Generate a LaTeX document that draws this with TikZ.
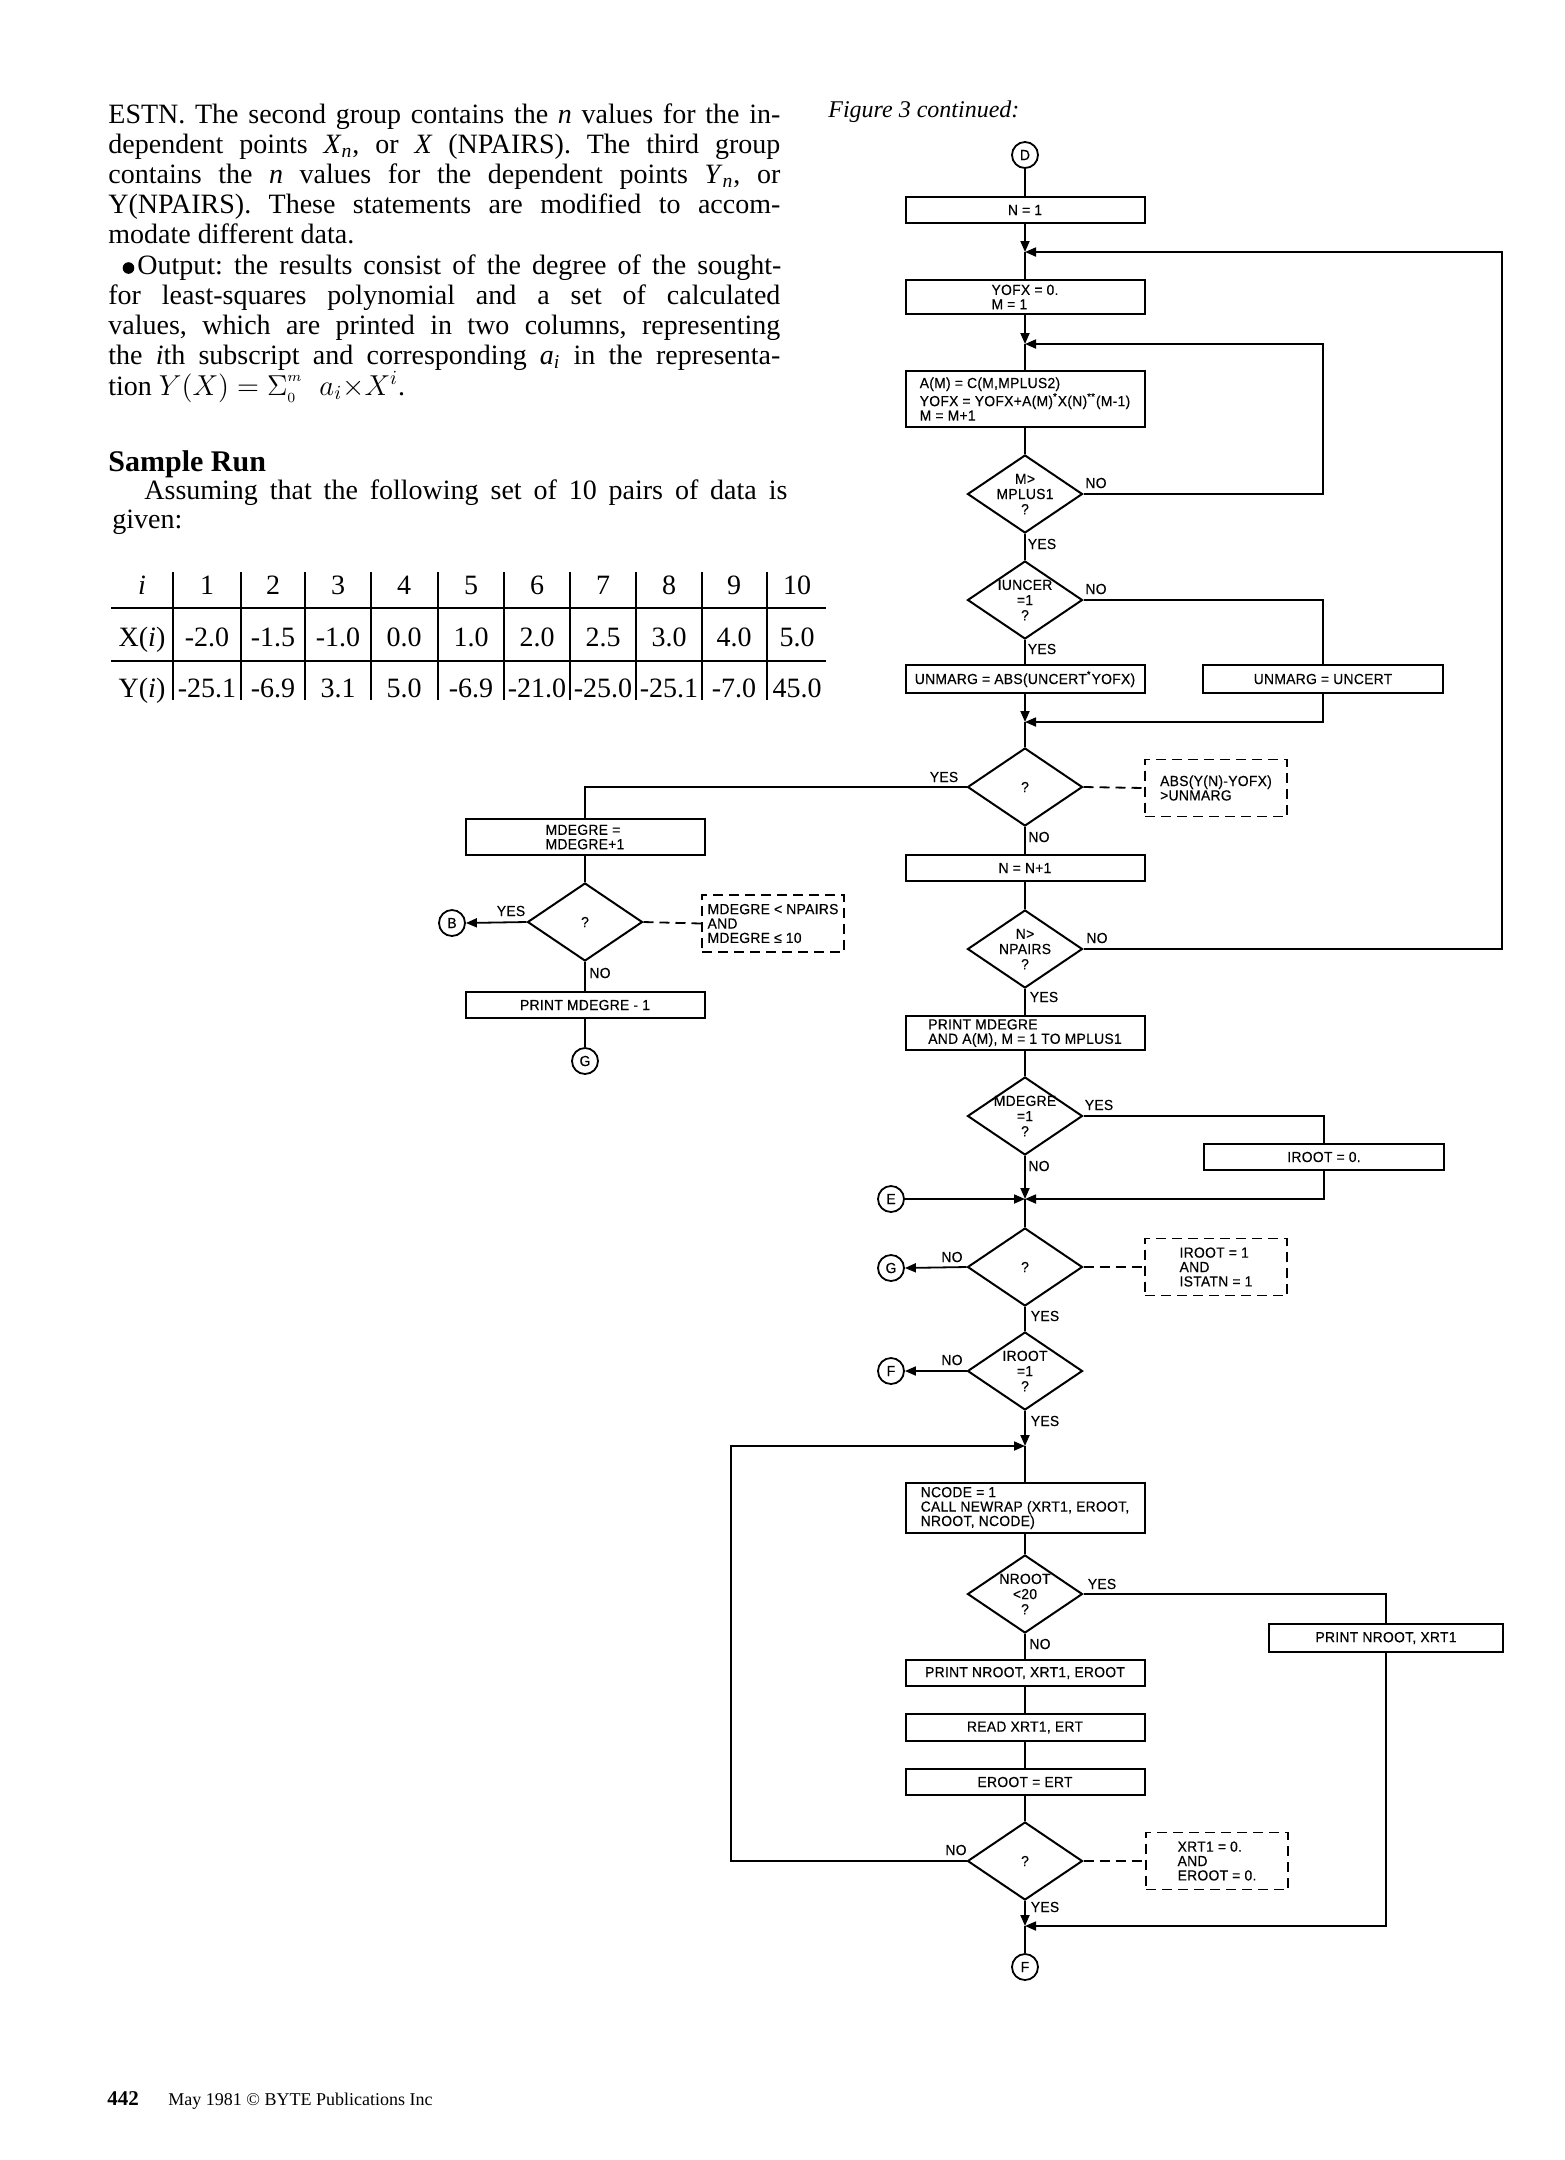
\documentclass[tikz,border=0pt]{standalone}
\usepackage{fontspec}
\setmainfont{Liberation Serif}
\newfontfamily\fcfont[FakeStretch=0.95,LetterSpace=2,FakeBold=0.4]{Liberation Sans}
\usetikzlibrary{shapes.geometric,arrows.meta,calc}
\newcommand\jline[1]{\makebox[336pt][s]{#1}}
\frenchspacing
\begin{document}
\begin{tikzpicture}[x=0.5pt,y=-0.5pt,
  fc/.style={font=\fcfont\fontsize{7.3}{7.2}\selectfont},
  box/.style={draw,line width=1pt,fc,inner sep=0pt,minimum width=119.5pt,align=left},
  dbox/.style={draw,dash pattern=on 5pt off 3pt,line width=0.9pt,fc,inner sep=0pt,align=left,minimum width=71pt,minimum height=28.5pt},
  dia/.style={draw,diamond,line width=1pt,minimum width=57.5pt,minimum height=39pt,inner sep=0pt},
  dt/.style={fc,align=center,inner sep=0pt,font=\fcfont\fontsize{7.3}{7.6}\selectfont},
  conn/.style={draw,circle,line width=0.9pt,minimum size=13pt,inner sep=0pt,font=\fcfont\fontsize{7.3}{7.3}\selectfont},
  lbl/.style={fc,inner sep=0pt},
  ln/.style={line width=0.9pt},
  arr/.style={line width=0.9pt,-{Triangle[length=5.5pt,width=4.5pt]}},
  dl/.style={line width=0.9pt,dash pattern=on 5pt off 3pt},
  body/.style={anchor=base west,inner sep=0pt,font=\fontsize{14}{15}\selectfont},
  cell/.style={anchor=base,inner sep=0pt,font=\fontsize{14}{15}\selectfont},
]
\fill[white] (0,0) rectangle (1565,2160);
\useasboundingbox (0,0) rectangle (1565,2160);

% ---------- body text ----------
\node[body] (t1) at (108,123) {\jline{ESTN. The second group contains the \textit{n} values for the in-}};
\node[body] (t2) at (108,153) {\jline{dependent points \textit{X}\textsubscript{\textit{n}}, or \textit{X} (NPAIRS). The third group}};
\node[body] (t3) at (108,183) {\jline{contains the \textit{n} values for the dependent points \textit{Y}\textsubscript{\textit{n}}, or}};
\node[body] (t4) at (108,213) {\jline{Y(NPAIRS). These statements are modified to accom-}};
\node[body] (t5) at (108,243) {modate different data.};
\fill (128.5,268) circle (5.8);
\node[body] (t6) at (137,274) {\makebox[322pt][s]{Output: the results consist of the degree of the sought-}};
\node[body] (t7) at (108,304) {\jline{for least-squares polynomial and a set of calculated}};
\node[body] (t8) at (108,334) {\jline{values, which are printed in two columns, representing}};
\node[body] (t9) at (108,364) {\jline{the \textit{i}th subscript and corresponding \textit{a}\textsubscript{\textit{i}} in the representa-}};
\node[body] (t10) at (108,395) {tion $Y(X)=\Sigma\rlap{\raisebox{7pt}{$\scriptscriptstyle m$}}\raisebox{-3.5pt}{$\scriptscriptstyle 0$}\;\;\; a_i{\times}X^i$.};
\node[body,font=\bfseries\fontsize{15}{17}\selectfont] (sr) at (108,471) {Sample Run};
\node[body] (t11) at (144,499) {\makebox[321.5pt][s]{Assuming that the following set of 10 pairs of data is}};
\node[body] (t12) at (112,528) {given:};

% ---------- table ----------
\draw[line width=0.9pt] (111,608) -- (826,608) (111,661) -- (826,661);
\foreach \vx in {173,241,305,371,438,504,570,636,702,767}
  \draw[line width=0.9pt] (\vx,572) -- (\vx,700);
\foreach \cx/\a/\b/\c in {142/{\textit{i}}/{X(\textit{i})}/{Y(\textit{i})},
  207/1/-2.0/-25.1, 273/2/-1.5/-6.9, 338/3/-1.0/3.1, 404/4/0.0/5.0,
  471/5/1.0/-6.9, 537/6/2.0/-21.0, 603/7/2.5/-25.0, 669/8/3.0/-25.1,
  734/9/4.0/-7.0, 797/10/5.0/45.0}{
  \node[cell] (h\cx) at (\cx,594) {\a};
  \node[cell] (x\cx) at (\cx,646) {\b};
  \node[cell] (y\cx) at (\cx,697) {\c};
}

% ---------- footer and caption ----------
\node[body,font=\itshape\fontsize{12}{14}\selectfont] (cap) at (828,117) {Figure 3 continued:};
\node[body,font=\bfseries\fontsize{10.5}{12}\selectfont] (pg) at (107,2105) {442};
\node[body,font=\fontsize{9}{11}\selectfont] (ft) at (168,2105) {May 1981 \textcopyright{} BYTE Publications Inc};

% ---------- flowchart: main column ----------
\node[conn] (D) at (1025,155) {D};
\node[box,minimum height=13pt] (n1) at (1025,210) {N = 1};
\coordinate (j1) at (1025,252);
\node[box,minimum height=17pt] (yofx) at (1025,297) {YOFX = 0.\\M = 1};
\coordinate (j2) at (1025,344);
\node[box,minimum height=28pt] (am) at (1025,399) {A(M) = C(M,MPLUS2)\\YOFX = YOFX+A(M)\textsuperscript{*}X(N)\textsuperscript{**}(M-1)\\M = M+1};
\node[dia] (d1) at (1025,494) {};
\node[dt] (d1t) at (d1) {M>\\MPLUS1\\?};
\node[dia] (d2) at (1025,600) {};
\node[dt] (d2t) at (d2) {IUNCER\\=1\\?};
\node[box,minimum height=14pt] (abs) at (1025,679) {UNMARG = ABS(UNCERT\textsuperscript{*}YOFX)};
\node[box,minimum height=14pt,minimum width=120pt] (uncert) at (1323,679) {UNMARG = UNCERT};
\coordinate (j3) at (1025,722);
\node[dia] (d3) at (1025,787) {};
\node[dt] (d3t) at (d3) {?};
\node[dbox] (c1) at (1216,788) {ABS(Y(N)-YOFX)\\>UNMARG};
\node[box,minimum height=13pt] (nn1) at (1025,868) {N = N+1};
\node[dia] (d5) at (1025,949) {};
\node[dt] (d5t) at (d5) {N>\\NPAIRS\\?};
\node[box,minimum height=17pt] (pmd) at (1025,1033) {PRINT MDEGRE\\AND A(M), M = 1 TO MPLUS1};
\node[dia] (d6) at (1025,1116) {};
\node[dt] (d6t) at (d6) {MDEGRE\\=1\\?};
\node[box,minimum height=13pt,minimum width=120pt] (iroot0) at (1324,1157) {IROOT = 0.};
\coordinate (j4) at (1025,1199);
\node[conn] (E) at (891,1199) {E};
\node[dia] (d7) at (1025,1267) {};
\node[dt] (d7t) at (d7) {?};
\node[conn] (G2) at (891,1268) {G};
\node[dbox] (c3) at (1216,1267) {IROOT = 1\\AND\\ISTATN = 1};
\node[dia] (d8) at (1025,1371) {};
\node[dt] (d8t) at (d8) {IROOT\\=1\\?};
\node[conn] (F1) at (891,1371) {F};
\coordinate (j5) at (1025,1446);
\node[box,minimum height=25pt] (ncode) at (1025,1508) {NCODE = 1\\CALL NEWRAP (XRT1, EROOT,\\NROOT, NCODE)};
\node[dia] (d9) at (1025,1594) {};
\node[dt] (d9t) at (d9) {NROOT\\<20\\?};
\node[box,minimum height=14pt,minimum width=117pt] (prx) at (1386,1638) {PRINT NROOT, XRT1};
\node[box,minimum height=13pt] (pre) at (1025,1673) {PRINT NROOT, XRT1, EROOT};
\node[box,minimum height=13.5pt] (read) at (1025,1727.5) {READ XRT1, ERT};
\node[box,minimum height=13pt] (eroot) at (1025,1782) {EROOT = ERT};
\node[dia] (d10) at (1025,1861) {};
\node[dt] (d10t) at (d10) {?};
\node[dbox] (c4) at (1217,1861) {XRT1 = 0.\\AND\\EROOT = 0.};
\coordinate (j6) at (1025,1926);
\node[conn] (F2) at (1025,1967) {F};

% ---------- flowchart: left branch ----------
\node[box,minimum height=18pt] (mdegre) at (585,837) {MDEGRE =\\MDEGRE+1};
\node[dia] (d4) at (585,922) {};
\node[dt] (d4t) at (d4) {?};
\node[conn] (B) at (452,923) {B};
\node[dbox] (c2) at (773,923.5) {MDEGRE < NPAIRS\\AND\\MDEGRE ≤ 10};
\node[box,minimum height=13pt] (pm1) at (585,1005) {PRINT MDEGRE - 1};
\node[conn] (G1) at (585,1061) {G};

% ---------- labels ----------
\node[lbl] (l1n) at (1096,483) {NO};
\node[lbl] (l1y) at (1042,544) {YES};
\node[lbl] (l2n) at (1096,589) {NO};
\node[lbl] (l2y) at (1042,649) {YES};
\node[lbl] (l3y) at (944,777) {YES};
\node[lbl] (l3n) at (1039,837) {NO};
\node[lbl] (l4y) at (511,911) {YES};
\node[lbl] (l4n) at (600,973) {NO};
\node[lbl] (l5n) at (1097,938) {NO};
\node[lbl] (l5y) at (1044,997) {YES};
\node[lbl] (l6y) at (1099,1105) {YES};
\node[lbl] (l6n) at (1039,1166) {NO};
\node[lbl] (l7n) at (952,1257) {NO};
\node[lbl] (l7y) at (1045,1316) {YES};
\node[lbl] (l8n) at (952,1360) {NO};
\node[lbl] (l8y) at (1045,1421) {YES};
\node[lbl] (l9y) at (1102,1584) {YES};
\node[lbl] (l9n) at (1040,1644) {NO};
\node[lbl] (l10n) at (956,1850) {NO};
\node[lbl] (l10y) at (1045,1907) {YES};

% ---------- connectors ----------
\coordinate (k1) at (1323,344);
\coordinate (k2) at (1502,252);
\coordinate (k3) at (731,1446);
\draw[ln] (D.south) -- (n1.north);
\draw[arr] (n1.south) -- (j1);
\draw[ln] (j1) -- (yofx.north);
\draw[arr] (yofx.south) -- (j2);
\draw[ln] (j2) -- (am.north);
\draw[ln] (am.south) -- (d1.north);
\draw[arr] (d1.east) -| (k1) -- (j2);
\draw[ln] (d1.south) -- (d2.north);
\draw[ln] (d2.east) -| (uncert.north);
\draw[ln] (d2.south) -- (abs.north);
\draw[arr] (abs.south) -- (j3);
\draw[arr] (uncert.south) |- (j3);
\draw[ln] (j3) -- (d3.north);
\draw[dl] (d3.east) -- (c1.west);
\draw[ln] (d3.west) -| (mdegre.north);
\draw[ln] (mdegre.south) -- (d4.north);
\draw[arr] (d4.west) -- (B.east);
\draw[dl] (d4.east) -- (c2.west);
\draw[ln] (d4.south) -- (pm1.north);
\draw[ln] (pm1.south) -- (G1.north);
\draw[ln] (d3.south) -- (nn1.north);
\draw[ln] (nn1.south) -- (d5.north);
\draw[arr] (d5.east) -| (k2) -- (j1);
\draw[ln] (d5.south) -- (pmd.north);
\draw[ln] (pmd.south) -- (d6.north);
\draw[ln] (d6.east) -| (iroot0.north);
\draw[arr] (d6.south) -- (j4);
\draw[arr] (iroot0.south) |- (j4);
\draw[arr] (E.east) -- (j4);
\draw[ln] (j4) -- (d7.north);
\draw[arr] (d7.west) -- (G2.east);
\draw[dl] (d7.east) -- (c3.west);
\draw[ln] (d7.south) -- (d8.north);
\draw[arr] (d8.west) -- (F1.east);
\draw[arr] (d8.south) -- (j5);
\draw[ln] (j5) -- (ncode.north);
\draw[ln] (ncode.south) -- (d9.north);
\draw[ln] (d9.east) -| (prx.north);
\draw[ln] (d9.south) -- (pre.north);
\draw[ln] (pre.south) -- (read.north);
\draw[ln] (read.south) -- (eroot.north);
\draw[ln] (eroot.south) -- (d10.north);
\draw[arr] (d10.west) -| (k3) -- (j5);
\draw[dl] (d10.east) -- (c4.west);
\draw[arr] (d10.south) -- (j6);
\draw[arr] (prx.south) |- (j6);
\draw[ln] (j6) -- (F2.north);
\end{tikzpicture}
\end{document}
